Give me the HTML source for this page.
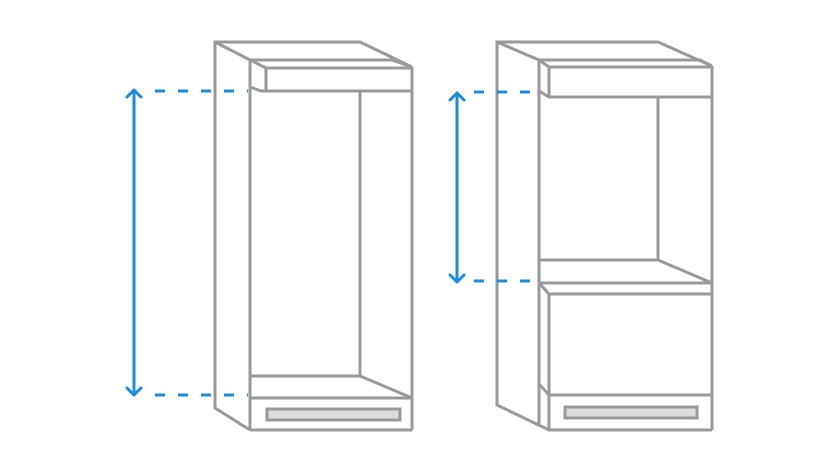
<!DOCTYPE html>
<html><head><meta charset="utf-8"><style>html,body{margin:0;padding:0;background:#fff}svg{display:block}</style></head>
<body>
<svg width="840" height="473" viewBox="0 0 840 473" xmlns="http://www.w3.org/2000/svg">
<g fill="none" stroke="#999" stroke-width="3" stroke-linejoin="miter">
<!-- left cabinet -->
<polyline points="250,430 215,408 215,42 360,42 412,67"/>
<polyline points="215,42 250,60 392,60 412,67"/>
<line x1="250" y1="60" x2="250" y2="430"/>
<polyline points="250,60 266,68 412,68"/>
<line x1="266" y1="68" x2="266" y2="91"/>
<polyline points="250,87 261,91 412,91"/>
<line x1="412" y1="67" x2="412" y2="430"/>
<line x1="360" y1="91" x2="360" y2="376"/>
<polyline points="250,376 360,376 412,398"/>
<line x1="250" y1="398" x2="412" y2="398"/>
<line x1="250" y1="430" x2="412" y2="430"/>
<rect x="267" y="409" width="133" height="11" fill="#dcdcdc"/>
<!-- right cabinet -->
<polyline points="549,430 497,405 497,42 658,42 712,66"/>
<polyline points="497,42 539,60 700,60 712,66"/>
<line x1="539" y1="60" x2="539" y2="424"/>
<polyline points="539,60 549,67 712,67"/>
<line x1="549" y1="67" x2="549" y2="97"/>
<polyline points="539,91 549,97 712,97"/>
<line x1="712" y1="66" x2="712" y2="430"/>
<line x1="658" y1="97" x2="658" y2="260"/>
<polyline points="539,260 658,260 712,283"/>
<line x1="539" y1="283" x2="712" y2="283"/>
<polyline points="539,283 549,294 712,294"/>
<line x1="549" y1="294" x2="549" y2="430"/>
<polyline points="539,384 549,395 712,395"/>
<line x1="548" y1="430" x2="712" y2="430"/>
<rect x="565" y="407" width="132" height="11" fill="#dcdcdc"/>
</g>
<g fill="none" stroke="#1a8ce0" stroke-width="3" stroke-linecap="round" stroke-linejoin="round">
<line x1="134" y1="90" x2="134" y2="395"/>
<polyline points="127,97 134,90 141,97"/>
<polyline points="127,388 134,395 141,388"/>
<line x1="155" y1="91" x2="248" y2="91" stroke-dasharray="10 13" stroke-linecap="butt"/>
<line x1="155" y1="395" x2="248" y2="395" stroke-dasharray="10 13" stroke-linecap="butt"/>
<line x1="457" y1="93" x2="457" y2="282"/>
<polyline points="450,100 457,93 464,100"/>
<polyline points="450,275 457,282 464,275"/>
<line x1="474" y1="92" x2="538" y2="92" stroke-dasharray="10 13" stroke-linecap="butt"/>
<line x1="474" y1="281" x2="538" y2="281" stroke-dasharray="10 13" stroke-linecap="butt"/>
</g>
</svg>
</body></html>
